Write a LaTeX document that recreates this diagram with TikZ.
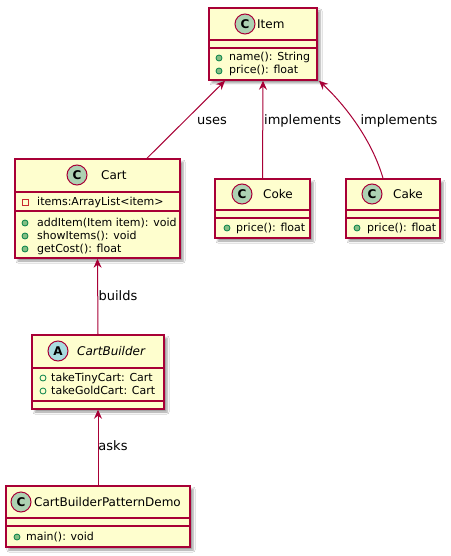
\documentclass[tikz,border=0pt]{standalone}
\usepackage{fontspec}
\setmainfont{DejaVu Sans}
\usetikzlibrary{arrows.meta,shadows.blur,calc}
\definecolor{umlline}{HTML}{A80036}
\definecolor{umlfill}{HTML}{FEFECE}
\definecolor{cfill}{HTML}{ADD1B2}
\definecolor{afill}{HTML}{A9DCDF}
\definecolor{iconline}{HTML}{038048}
\definecolor{iconfill}{HTML}{84BE84}
\definecolor{privline}{HTML}{C82930}
\tikzset{
  classbox/.style={draw=umlline, line width=1.5pt, fill=umlfill, inner sep=0pt,
    blur shadow={shadow xshift=3pt, shadow yshift=-3pt, shadow blur radius=2pt}},
  sepline/.style={draw=umlline, line width=1.5pt},
  kindc/.style={circle, draw=umlline, line width=1pt, fill=cfill, minimum size=20pt, inner sep=0pt,
    font=\fontsize{12}{14}\selectfont\bfseries},
  kinda/.style={circle, draw=umlline, line width=1pt, fill=afill, minimum size=20pt, inner sep=0pt,
    font=\fontsize{12}{14}\selectfont\bfseries},
  titletext/.style={anchor=west, inner sep=0pt, font=\fontsize{12}{14}\selectfont},
  member/.style={anchor=west, inner sep=0pt, font=\fontsize{11}{13}\selectfont, text height=8pt, text depth=2pt},
  pubm/.style={circle, draw=iconline, fill=iconfill, minimum size=6pt, inner sep=0pt, line width=0.8pt},
  pubf/.style={circle, draw=iconline, minimum size=6pt, inner sep=0pt, line width=0.8pt},
  privf/.style={rectangle, draw=privline, minimum size=6pt, inner sep=0pt, line width=0.8pt},
  assocline/.style={draw=umlline, line width=1pt, -{Stealth[length=9pt,width=8pt,inset=3pt]}},
  edgelabel/.style={inner sep=0pt, font=\fontsize{13}{15}\selectfont}
}
\begin{document}
\begin{tikzpicture}[x=1pt, y={(0,-1pt)}]
\fill[white] (0,0) rectangle (450,556);
\useasboundingbox (0,0) rectangle (450,556);

% Item
\node[classbox, minimum width=108pt, minimum height=72pt] (item) at (263,44) {};
\draw[sepline] (item.west |- 0,40) -- (item.east |- 0,40);
\draw[sepline] (item.west |- 0,48) -- (item.east |- 0,48);
\node[kindc] (itemk) at (245,24) {C};
\node[titletext] (itemt) at (257,24) {Item};
\node[pubm] (itemi1) at (219,58) {};
\node[member] (itemm1) at (229,58) {name(): String};
\node[pubm] (itemi2) at (219,71) {};
\node[member] (itemm2) at (229,71) {price(): float};

% Cart
\node[classbox, minimum width=165pt, minimum height=99pt] (cart) at (97.5,208.5) {};
\draw[sepline] (cart.west |- 0,192) -- (cart.east |- 0,192);
\draw[sepline] (cart.west |- 0,211) -- (cart.east |- 0,211);
\node[kindc] (cartk) at (77,175) {C};
\node[titletext] (cartt) at (101,175) {Cart};
\node[privf] (carti0) at (25,202) {};
\node[member] (cartf0) at (37,202) {items:ArrayList<item>};
\node[pubm] (carti1) at (25,223) {};
\node[member] (cartm1) at (37,223) {addItem(Item item): void};
\node[pubm] (carti2) at (25,236) {};
\node[member] (cartm2) at (37,236) {showItems(): void};
\node[pubm] (carti3) at (25,249) {};
\node[member] (cartm3) at (37,249) {getCost(): float};

% Coke
\node[classbox, minimum width=95pt, minimum height=59pt] (coke) at (262.5,208.5) {};
\draw[sepline] (coke.west |- 0,210) -- (coke.east |- 0,210);
\draw[sepline] (coke.west |- 0,218) -- (coke.east |- 0,218);
\node[kindc] (cokek) at (242,194) {C};
\node[titletext] (coket) at (263,194) {Coke};
\node[pubm] (cokei1) at (227,228) {};
\node[member] (cokem1) at (236,228) {price(): float};

% Cake
\node[classbox, minimum width=94pt, minimum height=59pt] (cake) at (393,208.5) {};
\draw[sepline] (cake.west |- 0,210) -- (cake.east |- 0,210);
\draw[sepline] (cake.west |- 0,218) -- (cake.east |- 0,218);
\node[kindc] (cakek) at (372,194) {C};
\node[titletext] (caket) at (393,194) {Cake};
\node[pubm] (cakei1) at (357,228) {};
\node[member] (cakem1) at (367,228) {price(): float};

% CartBuilder
\node[classbox, minimum width=132pt, minimum height=74pt] (builder) at (98,372) {};
\draw[sepline] (builder.west |- 0,368) -- (builder.east |- 0,368);
\draw[sepline] (builder.west |- 0,401) -- (builder.east |- 0,401);
\node[kinda] (builderk) at (58,351) {A};
\node[titletext, font=\fontsize{12}{14}\selectfont\itshape] (buildert) at (77,351) {CartBuilder};
\node[pubf] (builderi1) at (43,378) {};
\node[member] (builderf1) at (51,378) {takeTinyCart: Cart};
\node[pubf] (builderi2) at (43,391) {};
\node[member] (builderf2) at (51,391) {takeGoldCart: Cart};

% CartBuilderPatternDemo
\node[classbox, minimum width=184pt, minimum height=61pt] (demo) at (98,516.5) {};
\draw[sepline] (demo.west |- 0,518) -- (demo.east |- 0,518);
\draw[sepline] (demo.west |- 0,526) -- (demo.east |- 0,526);
\node[kindc] (demok) at (21,502) {C};
\node[titletext] (demot) at (34,502) {CartBuilderPatternDemo};
\node[pubm] (demoi1) at (17,537) {};
\node[member] (demom1) at (26,537) {main(): void};

% connectors
\draw[assocline] ($(cart.north)+(49.5,0)$) -- ($(item.south)+(-38,0)$);
\node[edgelabel] (luses) at (212,121) {uses};
\draw[assocline] (coke.north) -- (item.south);
\node[edgelabel, anchor=west] (limpl1) at (264,121) {implements};
\draw[assocline] ($(cake.north)+(-10,0)$) .. controls (372,140) and (345,105) .. ($(item.south)+(56,0)$);
\node[edgelabel] (limpl2) at (399,121) {implements};
\draw[assocline] (builder.north) -- (cart.south);
\node[edgelabel] (lbuilds) at (118,296) {builds};
\draw[assocline] (demo.north) -- (builder.south);
\node[edgelabel] (lasks) at (113,446) {asks};
\end{tikzpicture}
\end{document}
